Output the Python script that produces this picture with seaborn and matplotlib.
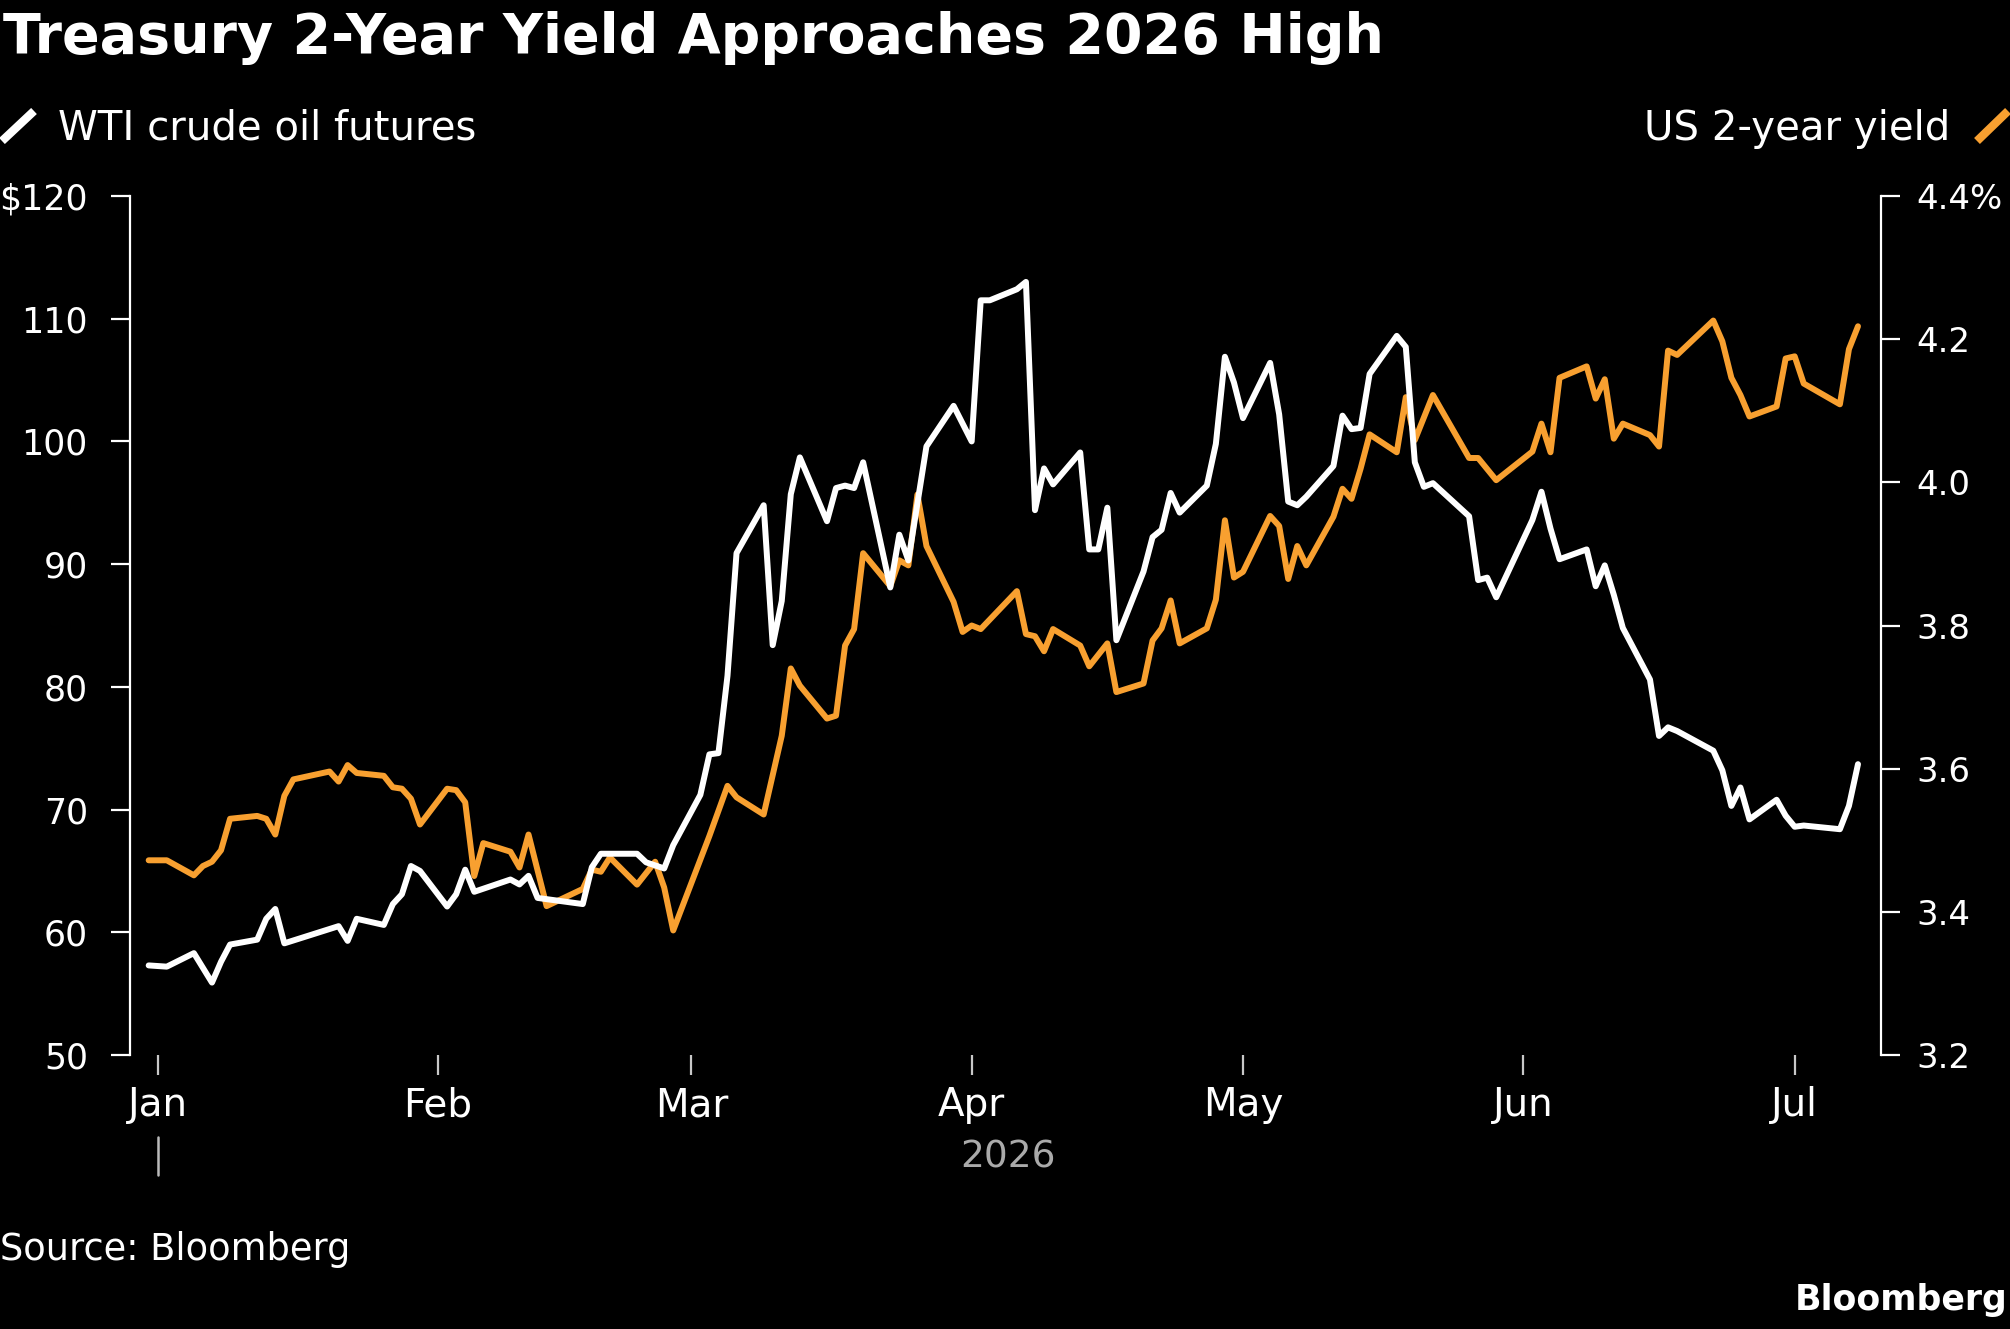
import numpy as np
import pandas as pd
import matplotlib
matplotlib.use("Agg")
import matplotlib.pyplot as plt
import matplotlib.dates as mdates
import matplotlib.transforms as mtrans
from matplotlib.lines import Line2D
import seaborn as sns

# ---------------- data ----------------
TITLE = "Treasury 2-Year Yield Approaches 2026 High"
WTI_LABEL = "WTI crude oil futures"
UST_LABEL = "US 2-year yield"
SOURCE = "Source: Bloomberg"
BRAND = "Bloomberg"
YEAR_LABEL = "2026"

wti_dates = [
    "2025-12-31", "2026-01-02", "2026-01-05", "2026-01-07", "2026-01-08", "2026-01-09",
    "2026-01-12", "2026-01-13", "2026-01-14", "2026-01-15", "2026-01-21", "2026-01-22",
    "2026-01-23", "2026-01-26", "2026-01-27", "2026-01-28", "2026-01-29", "2026-01-30",
    "2026-02-02", "2026-02-03", "2026-02-04", "2026-02-05", "2026-02-09", "2026-02-10",
    "2026-02-11", "2026-02-12", "2026-02-17", "2026-02-18", "2026-02-19", "2026-02-23",
    "2026-02-24", "2026-02-26", "2026-02-27", "2026-03-02", "2026-03-03", "2026-03-04",
    "2026-03-05", "2026-03-06", "2026-03-09", "2026-03-10", "2026-03-11", "2026-03-12",
    "2026-03-13", "2026-03-16", "2026-03-17", "2026-03-18", "2026-03-19", "2026-03-20",
    "2026-03-23", "2026-03-24", "2026-03-25", "2026-03-27", "2026-03-30", "2026-04-01",
    "2026-04-02", "2026-04-03", "2026-04-06", "2026-04-07", "2026-04-08", "2026-04-09",
    "2026-04-10", "2026-04-13", "2026-04-14", "2026-04-15", "2026-04-16", "2026-04-17",
    "2026-04-20", "2026-04-21", "2026-04-22", "2026-04-23", "2026-04-24", "2026-04-27",
    "2026-04-28", "2026-04-29", "2026-04-30", "2026-05-01", "2026-05-04", "2026-05-05",
    "2026-05-06", "2026-05-07", "2026-05-08", "2026-05-11", "2026-05-12", "2026-05-13",
    "2026-05-14", "2026-05-15", "2026-05-18", "2026-05-19", "2026-05-20", "2026-05-21",
    "2026-05-22", "2026-05-26", "2026-05-27", "2026-05-28", "2026-05-29", "2026-06-02",
    "2026-06-03", "2026-06-04", "2026-06-05", "2026-06-08", "2026-06-09", "2026-06-10",
    "2026-06-11", "2026-06-12", "2026-06-15", "2026-06-16", "2026-06-17", "2026-06-18",
    "2026-06-22", "2026-06-23", "2026-06-24", "2026-06-25", "2026-06-26", "2026-06-29",
    "2026-06-30", "2026-07-01", "2026-07-02", "2026-07-06", "2026-07-07", "2026-07-08",
]
wti_values = [
    57.3, 57.2, 58.3, 55.9, 57.6, 59.0,
    59.4, 61.1, 61.9, 59.1, 60.5, 59.3,
    61.1, 60.6, 62.3, 63.1, 65.4, 65.0,
    62.1, 63.1, 65.1, 63.3, 64.3, 63.9,
    64.6, 62.8, 62.3, 65.3, 66.4, 66.4,
    65.7, 65.2, 67.1, 71.2, 74.5, 74.6,
    80.9, 90.9, 94.8, 83.4, 87.0, 95.7,
    98.7, 93.5, 96.2, 96.4, 96.2, 98.3,
    88.1, 92.4, 90.3, 99.6, 102.9, 100.0,
    111.5, 111.5, 112.4, 113.0, 94.4, 97.8,
    96.5, 99.1, 91.2, 91.2, 94.6, 83.8,
    89.4, 92.2, 92.8, 95.8, 94.2, 96.4,
    99.8, 106.9, 104.8, 101.9, 106.4, 102.2,
    95.1, 94.8, 95.5, 98.0, 102.1, 101.0,
    101.1, 105.5, 108.6, 107.7, 98.3, 96.3,
    96.6, 93.9, 88.7, 88.9, 87.3, 93.6,
    95.9, 92.9, 90.4, 91.2, 88.2, 89.9,
    87.5, 84.8, 80.6, 76.0, 76.7, 76.4,
    74.8, 73.2, 70.3, 71.8, 69.2, 70.8,
    69.5, 68.6, 68.7, 68.4, 70.3, 73.7,
]

ust_dates = [
    "2025-12-31", "2026-01-02", "2026-01-05", "2026-01-06", "2026-01-07", "2026-01-08",
    "2026-01-09", "2026-01-12", "2026-01-13", "2026-01-14", "2026-01-15", "2026-01-16",
    "2026-01-20", "2026-01-21", "2026-01-22", "2026-01-23", "2026-01-26", "2026-01-27",
    "2026-01-28", "2026-01-29", "2026-01-30", "2026-02-02", "2026-02-03", "2026-02-04",
    "2026-02-05", "2026-02-06", "2026-02-09", "2026-02-10", "2026-02-11", "2026-02-13",
    "2026-02-17", "2026-02-18", "2026-02-19", "2026-02-20", "2026-02-23", "2026-02-25",
    "2026-02-26", "2026-02-27", "2026-03-03", "2026-03-05", "2026-03-06", "2026-03-09",
    "2026-03-11", "2026-03-12", "2026-03-13", "2026-03-16", "2026-03-17", "2026-03-18",
    "2026-03-19", "2026-03-20", "2026-03-23", "2026-03-24", "2026-03-25", "2026-03-26",
    "2026-03-27", "2026-03-30", "2026-03-31", "2026-04-01", "2026-04-02", "2026-04-06",
    "2026-04-07", "2026-04-08", "2026-04-09", "2026-04-10", "2026-04-13", "2026-04-14",
    "2026-04-16", "2026-04-17", "2026-04-20", "2026-04-21", "2026-04-22", "2026-04-23",
    "2026-04-24", "2026-04-27", "2026-04-28", "2026-04-29", "2026-04-30", "2026-05-01",
    "2026-05-04", "2026-05-05", "2026-05-06", "2026-05-07", "2026-05-08", "2026-05-11",
    "2026-05-12", "2026-05-13", "2026-05-14", "2026-05-15", "2026-05-18", "2026-05-19",
    "2026-05-20", "2026-05-22", "2026-05-26", "2026-05-27", "2026-05-29", "2026-06-02",
    "2026-06-03", "2026-06-04", "2026-06-05", "2026-06-08", "2026-06-09", "2026-06-10",
    "2026-06-11", "2026-06-12", "2026-06-15", "2026-06-16", "2026-06-17", "2026-06-18",
    "2026-06-22", "2026-06-23", "2026-06-24", "2026-06-25", "2026-06-26", "2026-06-29",
    "2026-06-30", "2026-07-01", "2026-07-02", "2026-07-06", "2026-07-07", "2026-07-08",
]
ust_values = [
    3.472, 3.472, 3.451, 3.464, 3.470, 3.486,
    3.530, 3.534, 3.530, 3.508, 3.562, 3.585,
    3.596, 3.582, 3.605, 3.594, 3.590, 3.574,
    3.572, 3.558, 3.522, 3.572, 3.570, 3.553,
    3.450, 3.496, 3.484, 3.462, 3.508, 3.408,
    3.432, 3.459, 3.456, 3.476, 3.438, 3.470,
    3.434, 3.374, 3.506, 3.576, 3.560, 3.536,
    3.646, 3.740, 3.716, 3.670, 3.674, 3.772,
    3.795, 3.901, 3.855, 3.891, 3.884, 3.983,
    3.911, 3.833, 3.791, 3.800, 3.795, 3.848,
    3.788, 3.785, 3.764, 3.795, 3.772, 3.743,
    3.775, 3.707, 3.719, 3.779, 3.796, 3.835,
    3.775, 3.796, 3.836, 3.947, 3.867, 3.875,
    3.953, 3.939, 3.865, 3.911, 3.884, 3.952,
    3.991, 3.977, 4.019, 4.067, 4.042, 4.119,
    4.059, 4.122, 4.034, 4.034, 4.003, 4.043,
    4.082, 4.042, 4.146, 4.162, 4.117, 4.144,
    4.061, 4.082, 4.066, 4.050, 4.184, 4.178,
    4.226, 4.197, 4.146, 4.122, 4.092, 4.106,
    4.173, 4.176, 4.138, 4.109, 4.186, 4.218,
]

month_ticks = ["2026-01-01", "2026-02-01", "2026-03-01", "2026-04-01",
               "2026-05-01", "2026-06-01", "2026-07-01"]
month_labels = ["Jan", "Feb", "Mar", "Apr", "May", "Jun", "Jul"]
left_ticks = [50, 60, 70, 80, 90, 100, 110, 120]
left_labels = ["50", "60", "70", "80", "90", "100", "110", "$120"]
right_ticks = [3.2, 3.4, 3.6, 3.8, 4.0, 4.2, 4.4]
right_labels = ["3.2", "3.4", "3.6", "3.8", "4.0", "4.2", "4.4%"]

# ---------------- style ----------------
ORANGE = "#F8A030"
W, H = 2010, 1329
LW = 4.3

sns.set_theme(style="dark")
plt.rcParams["font.family"] = ["DejaVu Sans"]
plt.rcParams.update({
    "figure.facecolor": "black",
    "axes.facecolor": "black",
    "savefig.facecolor": "black",
    "text.color": "white",
    "axes.edgecolor": "white",
    "axes.grid": False,
    "xtick.color": "white",
    "ytick.color": "white",
})

wti = pd.DataFrame({"date": pd.to_datetime(wti_dates), "value": wti_values})
ust = pd.DataFrame({"date": pd.to_datetime(ust_dates), "value": ust_values})

fig = plt.figure(figsize=(W / 100, H / 100), dpi=100)
ax = fig.add_axes([129.5 / W, 1 - 1055 / H, (1880.6 - 129.5) / W, (1055 - 196) / H])
ax2 = ax.twinx()

sns.lineplot(data=ust, x="date", y="value", ax=ax2, color=ORANGE, lw=LW,
             estimator=None, legend=False)
sns.lineplot(data=wti, x="date", y="value", ax=ax, color="white", lw=LW,
             estimator=None, legend=False)
ax.set_zorder(ax2.get_zorder() + 1)
ax.patch.set_visible(False)

jan1 = pd.Timestamp("2026-01-01")
ax.set_xlim(jan1 - pd.Timedelta(days=3.12), jan1 + pd.Timedelta(days=190.5))
ax.set_ylim(50, 120)
ax2.set_ylim(3.2, 4.4)

ax.set_xticks(pd.to_datetime(month_ticks))
ax.set_xticklabels(month_labels)
ax.set_yticks(left_ticks)
ax.set_yticklabels(left_labels)
ax2.set_yticks(right_ticks)
ax2.set_yticklabels(right_labels)

for a in (ax, ax2):
    a.set_xlabel("")
    a.set_ylabel("")
    for s in a.spines.values():
        s.set_visible(False)
ax.spines["left"].set_visible(True)
ax.spines["left"].set_color("white")
ax.spines["left"].set_linewidth(1.6)
ax2.spines["right"].set_visible(True)
ax2.spines["right"].set_color("white")
ax2.spines["right"].set_linewidth(1.6)

ax.tick_params(axis="x", bottom=True, direction="out", length=14.5, width=1.6,
               color="#c8c8c8", pad=8, labelsize=28, labelcolor="white")
ax.tick_params(axis="y", left=True, right=False, direction="out", length=14, width=1.6,
               color="white", pad=16, labelsize=25, labelcolor="white")
ax2.tick_params(axis="y", right=True, left=False, direction="out", length=14, width=1.6,
                color="white", pad=12, labelsize=24.5, labelcolor="white")

# year separator and year label
trans = mtrans.blended_transform_factory(ax.transData, fig.transFigure)
fig.add_artist(Line2D([mdates.date2num(jan1)] * 2, [1 - 1137 / H, 1 - 1175 / H],
                      transform=trans, color="#bbbbbb", lw=1.8))
fig.text(1008 / W, 1 - 1157 / H, YEAR_LABEL, color="#aaaaaa", fontsize=27,
         ha="center", va="center")

# title
fig.text(3 / W, 1 - 53 / H, TITLE, fontsize=40, fontweight="bold",
         ha="left", va="baseline", color="white")

# legend
fig.add_artist(Line2D([2 / W, 34 / W], [1 - 141 / H, 1 - 111 / H],
                      transform=fig.transFigure, color="white", lw=6,
                      solid_capstyle="butt"))
fig.text(58 / W, 1 - 140 / H, WTI_LABEL, fontsize=29, ha="left", va="baseline")
fig.add_artist(Line2D([1977 / W, 2008 / W], [1 - 141 / H, 1 - 111 / H],
                      transform=fig.transFigure, color=ORANGE, lw=6,
                      solid_capstyle="butt"))
fig.text(1950 / W, 1 - 140 / H, UST_LABEL, fontsize=29, ha="right", va="baseline")

# footer
fig.text(0 / W, 1 - 1250 / H, SOURCE, fontsize=26.5, ha="left", va="center")
fig.text(2007 / W, 1 - 1300 / H, BRAND, fontsize=25, fontweight="bold",
         ha="right", va="center")

fig.savefig("out.png", dpi=100, facecolor="black")
